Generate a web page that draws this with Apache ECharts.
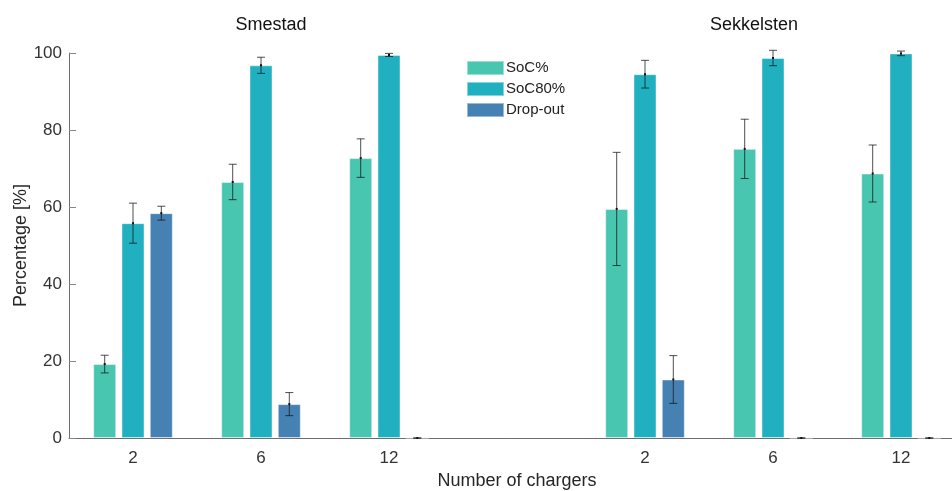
<!DOCTYPE html>
<html>
<head>
<meta charset="utf-8">
<script src="https://cdn.jsdelivr.net/npm/echarts@6/dist/echarts.min.js"></script>
<style>
  html, body { margin: 0; padding: 0; background: #fff; }
  #chart { width: 952px; height: 491px; }
</style>
</head>
<body>
<div id="chart"></div>
<script>
// Charger counts per site; the blank slot separates Smestad from Sekkelsten
const categories = ['2', '6', '12', '', '2', '6', '12'];
const siteNames = ['Smestad', 'Sekkelsten'];
const seriesNames = ['SoC%', 'SoC80%', 'Drop-out'];

// Mean percentages and error half-widths per charger count
const socMean   = [19.2, 66.5, 72.7, null, 59.5, 75.1, 68.7];
const socErr    = [2.3, 4.6, 5.0, null, 14.7, 7.7, 7.4];
const soc80Mean = [55.8, 96.8, 99.5, null, 94.5, 98.7, 99.9];
const soc80Err  = [5.2, 2.1, 0.4, null, 3.6, 2.0, 0.6];
const dropMean  = [58.4, 8.8, 0, null, 15.2, 0, 0];
const dropErr   = [1.8, 3.0, 0, null, 6.2, 0, 0];

const yTicks = [0, 20, 40, 60, 80, 100];

const colors = ['#48c6b0', '#21b0bf', '#4681b3'];
const FONT = '"Liberation Sans", Arial, Helvetica, sans-serif';
const BAR_W = 23;
const BAR_GAP = 5.3;
const STEP = BAR_W + BAR_GAP;

const means = [socMean, soc80Mean, dropMean];
const errs = [socErr, soc80Err, dropErr];

function errorData(mean, err) {
  const out = [];
  mean.forEach((m, i) => {
    if (m !== null) out.push([i, m, err[i]]);
  });
  return out;
}

function errorRenderer(slot) {
  return function (params, api) {
    const idx = api.value(0);
    const m = api.value(1);
    const e = api.value(2);
    const dx = (slot - 1) * STEP;
    const c = api.coord([idx, m]);
    const hi = api.coord([idx, m + e]);
    const lo = api.coord([idx, m - e]);
    const x = c[0] + dx;
    const cap = 4;
    const stroke = { stroke: 'rgba(20,20,20,0.75)', lineWidth: 1 };
    return {
      type: 'group',
      children: [
        { type: 'line', shape: { x1: x, y1: hi[1], x2: x, y2: lo[1] }, style: stroke },
        { type: 'line', shape: { x1: x - cap, y1: hi[1], x2: x + cap, y2: hi[1] }, style: stroke },
        { type: 'line', shape: { x1: x - cap, y1: lo[1], x2: x + cap, y2: lo[1] }, style: stroke },
        { type: 'rect', shape: { x: x - 1, y: c[1] - 1, width: 2, height: 2 }, style: { fill: '#111' } }
      ]
    };
  };
}

const barSeries = seriesNames.map((name, k) => ({
  name: name,
  type: 'bar',
  data: means[k],
  barWidth: BAR_W,
  barGap: (BAR_GAP / BAR_W * 100).toFixed(1) + '%',
  itemStyle: {
    color: colors[k],
    borderColor: 'rgba(255,255,255,0.45)',
    borderWidth: 1
  },
  z: 2
}));

const errSeries = seriesNames.map((name, k) => ({
  name: name + ' error',
  type: 'custom',
  data: errorData(means[k], errs[k]),
  renderItem: errorRenderer(k),
  clip: false,
  z: 5,
  silent: true
}));

const chart = echarts.init(document.getElementById('chart'), null, { renderer: 'canvas' });
chart.setOption({
  animation: false,
  backgroundColor: '#ffffff',
  textStyle: { fontFamily: FONT },
  title: [
    { text: siteNames[0], left: 266, top: 11, textAlign: 'center',
      textStyle: { fontFamily: FONT, fontSize: 18, fontWeight: 'normal', color: '#111' } },
    { text: siteNames[1], left: 749, top: 11, textAlign: 'center',
      textStyle: { fontFamily: FONT, fontSize: 18, fontWeight: 'normal', color: '#111' } }
  ],
  legend: {
    data: seriesNames,
    orient: 'vertical',
    left: 466,
    top: 60,
    itemWidth: 37,
    itemHeight: 14,
    itemGap: 5,
    icon: 'rect',
    padding: 0,
    textStyle: { fontFamily: FONT, fontSize: 15, color: '#222', padding: [0, 0, 0, -3] }
  },
  grid: {
    left: 69, top: 53, width: 896, height: 385,
    containLabel: false,
    outerBoundsMode: 'none'
  },
  xAxis: {
    type: 'category',
    data: categories,
    name: 'Number of chargers',
    nameLocation: 'middle',
    nameGap: 34,
    nameMoveOverlap: false,
    nameTextStyle: { fontFamily: FONT, fontSize: 18, color: '#262626' },
    axisLine: { lineStyle: { color: '#6e6e6e', width: 1 } },
    axisTick: {
      inside: true,
      length: 8,
      alignWithLabel: true,
      interval: (i, v) => v !== '',
      lineStyle: { color: '#555' }
    },
    axisLabel: { fontFamily: FONT, fontSize: 17, color: '#333', margin: 12 },
    splitLine: { show: false }
  },
  yAxis: {
    type: 'value',
    min: yTicks[0],
    max: yTicks[yTicks.length - 1],
    interval: yTicks[1] - yTicks[0],
    name: 'Percentage [%]',
    nameLocation: 'middle',
    nameGap: 39,
    nameMoveOverlap: false,
    nameTextStyle: { fontFamily: FONT, fontSize: 18, color: '#262626' },
    axisLine: { show: true, lineStyle: { color: '#6e6e6e', width: 1 } },
    axisTick: { show: true, inside: true, length: 7, lineStyle: { color: '#888' } },
    axisLabel: { fontFamily: FONT, fontSize: 17, color: '#333', margin: 7 },
    splitLine: { show: false }
  },
  series: barSeries.concat(errSeries)
});
</script>
</body>
</html>
